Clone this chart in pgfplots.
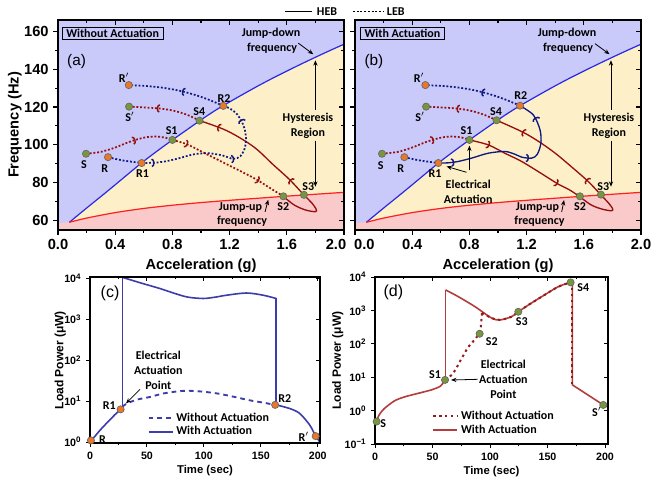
\documentclass[border=0pt]{standalone}
\usepackage{fontspec}
\setmainfont{Liberation Sans}
\newfontfamily\calfont{Carlito}
\usepackage{pgfplots}
\pgfplotsset{compat=1.18}
\usetikzlibrary{arrows.meta,decorations.markings}

\definecolor{lav}{RGB}{201,201,250}
\definecolor{yel}{RGB}{253,240,201}
\definecolor{pnk}{RGB}{250,201,201}
\definecolor{bline}{RGB}{40,40,230}
\definecolor{rline}{RGB}{255,30,30}
\definecolor{dred}{RGB}{150,15,15}
\definecolor{navy}{RGB}{15,25,130}
\definecolor{ornge}{RGB}{235,120,40}
\definecolor{grn}{RGB}{120,150,60}
\definecolor{cblue}{RGB}{60,60,170}
\definecolor{dline}{RGB}{180,60,60}
\definecolor{ddot}{RGB}{150,25,25}

\newcommand{\brb}{\arrow{Arc Barb[length=2.2pt,width=6.5pt,line width=1.1pt]}}

\tikzset{
 lbl/.style={font=\calfont\bfseries\fontsize{9}{10}\selectfont, inner sep=0.5pt, align=center},
 ann/.style={-{Stealth[length=4pt,width=3.2pt]}, line width=0.6pt, black},
}
\pgfplotsset{
 rpt/.style={only marks, mark=*, mark size=2.7pt, mark options={fill=ornge, draw=black!60, line width=0.5pt}},
 spt/.style={only marks, mark=*, mark size=2.7pt, mark options={fill=grn, draw=black!60, line width=0.5pt}},
 dotl/.style={line width=1.3pt, dash pattern=on 1.4pt off 1.4pt},
 dec/.style={postaction={decorate}, decoration={markings,#1}},
 panelab/.style={scale only axis, width=214.5pt, height=157.5pt, xmin=0, xmax=2, ymin=55, ymax=166,
   xtick={0,0.4,0.8,1.2,1.6,2.0}, minor x tick num=1, ytick={60,80,100,120,140,160}, minor y tick num=1,
   major tick length=3.5pt, minor tick length=2pt, tick style={line width=0.8pt, black},
   axis line style={line width=0.9pt}},
 mainab/.style={panelab, axis background/.style={fill=lav}, axis on top, xtick pos=left, ytick pos=left, tick align=outside,
   /pgf/number format/assume math mode=true,
   ticklabel style={font=\bfseries\fontsize{11}{12}\selectfont},
   xlabel={Acceleration (g)}, label style={font=\bfseries\fontsize{11}{12}\selectfont}},
 mirrab/.style={panelab, xtick pos=right, ytick pos=right, tick align=inside, xticklabels={}, yticklabels={}, axis line style={draw=none}},
}

\begin{document}
\begin{tikzpicture}
\path[use as bounding box] (0,0) rectangle (491.25pt,-357.75pt);

% top legend
\draw[line width=1.2pt] (213.75pt,-8.5pt) -- (234pt,-8.5pt);
\node[lbl, anchor=west] at (237pt,-8.5pt) {HEB};
\draw[line width=1.2pt, dash pattern=on 1.4pt off 1.4pt] (264.75pt,-8.5pt) -- (287.25pt,-8.5pt);
\node[lbl, anchor=west] at (289.5pt,-8.5pt) {LEB};

% ================= panel (a)
\begin{axis}[mainab, at={(43.5pt,-172.5pt)}, anchor=south west, ylabel={Frequency (Hz)},
  ylabel style={yshift=-5pt},
  xticklabels={0.0,0.4,0.8,1.2,1.6,\hspace*{-12pt}2.0}]
\addplot[draw=none, fill=yel] coordinates {(0.08,59.1)(0.2,66.6)(0.3,72.7)(0.4,78.9)(0.5,85.2)(0.6,91.4)(0.7,97.1)(0.8,102.6)(0.9,107.9)(1.0,113.2)(1.1,118.2)(1.2,122.7)(1.3,127)(1.4,131.2)(1.5,135.2)(1.6,139)(1.7,142.7)(1.8,146.3)(1.9,149.8)(2.0,153.2)(2.0,74.9)(1.8,73.9)(1.6,72.9)(1.4,71.8)(1.2,70.7)(1.0,69.5)(0.8,68.1)(0.6,66.4)(0.4,64.2)(0.2,61.3)(0.08,59.1)};
\addplot[draw=none, fill=pnk] coordinates {(0,55)(0,58.7)(0.08,59.1)(0.2,61.3)(0.4,64.2)(0.6,66.4)(0.8,68.1)(1.0,69.5)(1.2,70.7)(1.4,71.8)(1.6,72.9)(1.8,73.9)(2.0,74.9)(2.0,55)};
\addplot[bline, line width=0.9pt, smooth] coordinates {(0.08,59.1)(0.2,66.6)(0.3,72.7)(0.4,78.9)(0.5,85.2)(0.6,91.4)(0.7,97.1)(0.8,102.6)(0.9,107.9)(1.0,113.2)(1.1,118.2)(1.2,122.7)(1.3,127)(1.4,131.2)(1.5,135.2)(1.6,139)(1.7,142.7)(1.8,146.3)(1.9,149.8)(2.0,153.2)};
\addplot[rline, line width=0.9pt, smooth] coordinates {(0.08,59.1)(0.2,61.3)(0.4,64.2)(0.6,66.4)(0.8,68.1)(1.0,69.5)(1.2,70.7)(1.4,71.8)(1.6,72.9)(1.8,73.9)(2.0,74.9)};
% trajectories
\addplot[dred, dotl, smooth, dec={mark=at position 0.58 with {\brb}}] coordinates {(0.196,95.3)(0.3,96.3)(0.4,98.6)(0.5,101.6)(0.6,103.8)(0.68,104.4)(0.75,103.8)(0.80,102.6)};
\addplot[dred, dotl, smooth, dec={mark=at position 0.13 with {\brb}, mark=at position 0.77 with {\brb}}] coordinates {(0.80,102.6)(0.9,100.4)(1.0,96.6)(1.1,92.8)(1.2,89)(1.3,85.2)(1.39,81.6)(1.48,77.3)(1.576,72.8)};
\addplot[dred, line width=1pt, smooth, tension=0.55, dec={mark=at position 0.42 with {\brb}, mark=at position 0.9 with {\brb}}] coordinates {(1.576,72.8)(1.65,68.3)(1.73,65.6)(1.80,64.7)(1.805,66)(1.775,69.3)(1.72,73.5)(1.62,81.6)(1.505,89.5)(1.366,99.1)(1.18,107.5)(0.99,112.8)};
\addplot[dred, dotl, smooth, dec={mark=at position 0.62 with {\brb}}] coordinates {(0.99,112.8)(0.9,116)(0.8,118.2)(0.7,119.3)(0.6,119.8)(0.497,120.2)};
\addplot[navy, dotl, smooth] coordinates {(0.35,93.5)(0.45,91.8)(0.585,90.4)};
\addplot[navy, dotl, smooth, dec={mark=at position 0.08 with {\brb}, mark=at position 0.58 with {\brb}, mark=at position 0.86 with {\brb}}] coordinates {(0.585,90.4)(0.68,90.6)(0.76,91.4)(0.85,93)(0.95,95)(1.05,95.6)(1.15,94.4)(1.226,92.6)(1.275,94)(1.305,98)(1.315,102.6)(1.305,108.5)(1.28,113)(1.245,116.8)(1.2,119.3)(1.156,120.6)};
\addplot[navy, dotl, smooth, dec={mark=at position 0.45 with {\brb}}] coordinates {(1.156,120.6)(1.05,124)(0.95,126.6)(0.85,128.6)(0.75,130)(0.65,130.9)(0.55,131.4)(0.492,131.6)};
\addplot[rpt] coordinates {(0.35,93.5)(0.585,90.4)(1.156,120.6)(0.495,131.6)};
\addplot[spt] coordinates {(0.196,95.3)(0.80,102.6)(0.99,112.8)(0.497,120.2)(1.576,72.8)(1.72,73.6)};
% labels
\node[lbl] at (axis cs:0.462,135.6) {R$'$};
\node[lbl] at (axis cs:0.503,114.9) {S$'$};
\node[lbl] at (axis cs:0.182,89.5) {S};
\node[lbl] at (axis cs:0.327,87.7) {R};
\node[lbl] at (axis cs:0.592,84.7) {R1};
\node[lbl] at (axis cs:0.795,107.5) {S1};
\node[lbl] at (axis cs:0.988,117.5) {S4};
\node[lbl] at (axis cs:1.161,124.6) {R2};
\node[lbl] at (axis cs:1.576,67.2) {S2};
\node[lbl] at (axis cs:1.75,78.1) {S3};
\node[draw, line width=0.8pt, anchor=north west, font=\calfont\bfseries\fontsize{9}{10}\selectfont, inner xsep=3pt, inner ysep=1.5pt] at (rel axis cs:0.013,0.968) {Without Actuation};
\node[font=\fontsize{11.5}{13}\selectfont] at (rel axis cs:0.065,0.80) {(a)};
\node[lbl] at (axis cs:1.49,158.8) {Jump-down};
\node[lbl] at (axis cs:1.497,150.9) {frequency};
\draw[ann] (axis cs:1.68,153.8) -- (axis cs:1.785,147.9);
\node[lbl] at (axis cs:1.748,114.2) {Hysteresis};
\node[lbl] at (axis cs:1.748,106.3) {Region};
\draw[ann] (axis cs:1.80,118.5) -- (axis cs:1.80,144.7);
\draw[ann] (axis cs:1.80,102.3) -- (axis cs:1.80,77.9);
\node[lbl] at (axis cs:1.276,66.8) {Jump-up};
\node[lbl] at (axis cs:1.287,59.6) {frequency};
\draw[ann] (axis cs:1.448,64.6) -- (axis cs:1.47,71);
\end{axis}
\begin{axis}[mirrab, at={(43.5pt,-172.5pt)}, anchor=south west]
\end{axis}

% ================= panel (b)
\begin{axis}[mainab, at={(266.25pt,-172.5pt)}, anchor=south west, yticklabels={},
  xticklabels={0.0\hspace*{-14pt},0.4,0.8,1.2,1.6,2.0}]
\addplot[draw=none, fill=yel] coordinates {(0.08,59.1)(0.2,66.6)(0.3,72.7)(0.4,78.9)(0.5,85.2)(0.6,91.4)(0.7,97.1)(0.8,102.6)(0.9,107.9)(1.0,113.2)(1.1,118.2)(1.2,122.7)(1.3,127)(1.4,131.2)(1.5,135.2)(1.6,139)(1.7,142.7)(1.8,146.3)(1.9,149.8)(2.0,153.2)(2.0,74.9)(1.8,73.9)(1.6,72.9)(1.4,71.8)(1.2,70.7)(1.0,69.5)(0.8,68.1)(0.6,66.4)(0.4,64.2)(0.2,61.3)(0.08,59.1)};
\addplot[draw=none, fill=pnk] coordinates {(0,55)(0,58.7)(0.08,59.1)(0.2,61.3)(0.4,64.2)(0.6,66.4)(0.8,68.1)(1.0,69.5)(1.2,70.7)(1.4,71.8)(1.6,72.9)(1.8,73.9)(2.0,74.9)(2.0,55)};
\addplot[bline, line width=0.9pt, smooth] coordinates {(0.08,59.1)(0.2,66.6)(0.3,72.7)(0.4,78.9)(0.5,85.2)(0.6,91.4)(0.7,97.1)(0.8,102.6)(0.9,107.9)(1.0,113.2)(1.1,118.2)(1.2,122.7)(1.3,127)(1.4,131.2)(1.5,135.2)(1.6,139)(1.7,142.7)(1.8,146.3)(1.9,149.8)(2.0,153.2)};
\addplot[rline, line width=0.9pt, smooth] coordinates {(0.08,59.1)(0.2,61.3)(0.4,64.2)(0.6,66.4)(0.8,68.1)(1.0,69.5)(1.2,70.7)(1.4,71.8)(1.6,72.9)(1.8,73.9)(2.0,74.9)};
\addplot[dred, dotl, smooth, dec={mark=at position 0.6 with {\brb}}] coordinates {(0.189,95.3)(0.3,96.3)(0.4,98.6)(0.5,101.6)(0.6,103.8)(0.68,104.4)(0.75,103.8)(0.80,102.6)};
\addplot[dred, line width=1pt, smooth, dec={mark=at position 0.17 with {\brb}, mark=at position 0.8 with {\brb}}] coordinates {(0.80,102.6)(0.932,100)(1.05,95.5)(1.166,91.2)(1.3,85)(1.42,79.3)(1.5,76.2)(1.569,72.8)};
\addplot[dred, line width=1pt, smooth, tension=0.55, dec={mark=at position 0.42 with {\brb}, mark=at position 0.85 with {\brb}}] coordinates {(1.569,72.8)(1.65,68.3)(1.73,66)(1.795,65.2)(1.80,66.5)(1.77,69.5)(1.718,73.7)(1.63,80.7)(1.52,88)(1.40,95.6)(1.28,102)(1.166,107)(0.99,113)};
\addplot[dred, dotl, smooth, dec={mark=at position 0.58 with {\brb}}] coordinates {(0.99,113)(0.9,116)(0.8,118.2)(0.7,119.3)(0.6,119.8)(0.497,120.2)};
\addplot[navy, dotl, smooth] coordinates {(0.345,93.5)(0.45,91.8)(0.583,90.4)};
\addplot[navy, line width=1pt, smooth, dec={mark=at position 0.1 with {\brb}, mark=at position 0.58 with {\brb}, mark=at position 0.88 with {\brb}}] coordinates {(0.583,90.4)(0.65,90.5)(0.72,91.2)(0.816,93)(0.932,95.6)(1.049,96.5)(1.12,95)(1.166,93.5)(1.236,93)(1.275,95)(1.30,100.9)(1.294,107.9)(1.247,115.8)(1.154,120.7)};
\addplot[navy, dotl, smooth, dec={mark=at position 0.42 with {\brb}}] coordinates {(1.154,120.7)(1.05,124)(0.95,126.6)(0.85,128.6)(0.75,130)(0.65,130.9)(0.55,131.4)(0.492,131.6)};
\addplot[rpt] coordinates {(0.345,93.5)(0.583,90.4)(1.154,120.7)(0.492,131.6)};
\addplot[spt] coordinates {(0.189,95.3)(0.80,102.6)(0.99,113)(0.497,120.2)(1.573,72.8)(1.72,73.7)};
\node[lbl] at (axis cs:0.448,135.6) {R$'$};
\node[lbl] at (axis cs:0.455,114.6) {S$'$};
\node[lbl] at (axis cs:0.18,89.1) {S};
\node[lbl] at (axis cs:0.32,87.7) {R};
\node[lbl] at (axis cs:0.56,84.7) {R1};
\node[lbl] at (axis cs:0.78,107.5) {S1};
\node[lbl] at (axis cs:0.986,117.5) {S4};
\node[lbl] at (axis cs:1.16,125.8) {R2};
\node[lbl] at (axis cs:1.573,67.5) {S2};
\node[lbl] at (axis cs:1.736,78.1) {S3};
\node[draw, line width=0.8pt, anchor=north west, font=\calfont\bfseries\fontsize{9}{10}\selectfont, inner xsep=3pt, inner ysep=1.5pt] at (rel axis cs:0.0175,0.968) {With Actuation};
\node[font=\fontsize{11.5}{13}\selectfont] at (rel axis cs:0.066,0.80) {(b)};
\node[lbl] at (axis cs:1.483,158.8) {Jump-down};
\node[lbl] at (axis cs:1.49,150.9) {frequency};
\draw[ann] (axis cs:1.678,153.5) -- (axis cs:1.78,147.9);
\node[lbl] at (axis cs:1.776,114.2) {Hysteresis};
\node[lbl] at (axis cs:1.776,106.3) {Region};
\draw[ann] (axis cs:1.79,118.5) -- (axis cs:1.79,144.7);
\draw[ann] (axis cs:1.79,102.3) -- (axis cs:1.79,77.9);
\node[lbl] at (axis cs:1.276,66.8) {Jump-up};
\node[lbl] at (axis cs:1.29,59.6) {frequency};
\draw[ann] (axis cs:1.445,64.5) -- (axis cs:1.462,70.8);
\node[lbl] at (axis cs:0.792,78.9) {Electrical};
\node[lbl] at (axis cs:0.792,71.1) {Actuation};
\draw[ann] (axis cs:0.80,86.5) -- (axis cs:0.80,99.6);
\draw[ann] (axis cs:0.78,85.5) -- (axis cs:0.64,88.6);
\end{axis}
\begin{axis}[mirrab, at={(266.25pt,-172.5pt)}, anchor=south west]
\end{axis}

% ================= panel (c)
\begin{axis}[at={(67.5pt,-332.25pt)}, anchor=south west, scale only axis, width=172.5pt, height=124.5pt,
  xmin=0, xmax=202, ymode=log, ymin=0.95, ymax=10700,
  xtick={0,50,100,150,200}, minor x tick num=1,
  ytick={1,10,100,1000,10000},
  yticklabels={10\textsuperscript{0},10\textsuperscript{1},10\textsuperscript{2},10\textsuperscript{3},10\textsuperscript{4}},
  yminorticks=false, xtick pos=left, ytick pos=left, tick align=outside,
  major tick length=3pt, minor tick length=1.8pt, tick style={line width=0.7pt,black},
  axis line style={line width=0.9pt},
  /pgf/number format/assume math mode=true,
  ticklabel style={font=\bfseries\fontsize{8}{9}\selectfont},
  xlabel={Time (sec)}, ylabel={Load Power (μW)},
  xlabel style={font=\bfseries\fontsize{8.5}{9}\selectfont, yshift=2pt},
  ylabel style={font=\bfseries\fontsize{9}{10}\selectfont, yshift=-8pt},
  legend style={at={(0.25,0.2)}, anchor=north west, draw=none, fill=none, font=\calfont\bfseries\fontsize{9}{10}\selectfont, inner sep=0pt, row sep=-1.5pt},
  legend cell align=left,
  legend image code/.code={\draw[#1] (0pt,0pt) -- (18pt,0pt);},
  axis on top]
\addlegendimage{cblue, line width=1.4pt, dash pattern=on 3.5pt off 3pt}
\addlegendimage{cblue, line width=1.2pt}
\addplot[cblue, line width=1.4pt, dash pattern=on 3.5pt off 3pt, smooth] coordinates {(28.5,7.2)(32,8.7)(42,11)(52.6,12.6)(65,15.5)(81.8,17.8)(95,17.4)(111,15.5)(125,13)(140,10.5)(152,9.2)(162.6,8.1)};
\addplot[cblue, line width=1.2pt, smooth] coordinates {(0.5,1.05)(4,1.35)(8.8,1.95)(13,2.6)(17.5,3.5)(22,4.7)(26.9,6.3)(28.5,7.2)};
\addplot[cblue, line width=1.2pt] coordinates {(28.5,7.2)(28.5,10500)};
\addplot[cblue, line width=1.2pt, smooth] coordinates {(28.5,10500)(45,7600)(61.4,5600)(75,4200)(86,3450)(99.4,3200)(110,3450)(120,3850)(137.5,4350)(152,3850)(163.5,3200)};
\addplot[cblue, line width=1.2pt] coordinates {(163.5,3200)(163.5,8.1)};
\addplot[cblue, line width=1.2pt, smooth] coordinates {(163.5,8.1)(175.4,6.6)(184.2,5.0)(193,2.6)(198.2,1.4)(202,1.0)};
\addplot[rpt] coordinates {(0.8,1.1)(26.9,6.3)(162.6,8.1)(198.2,1.4)};
\legend{Without Actuation, With Actuation}
\node[lbl] at (axis cs:11,1.12) {R};
\node[lbl] at (axis cs:17,7.9) {R1};
\node[lbl] at (axis cs:171,11.7) {R2};
\node[lbl] at (axis cs:187.7,1.35) {R$'$};
\node[font=\fontsize{12}{13}\selectfont] at (rel axis cs:0.087,0.90) {(c)};
\node[lbl] at (axis cs:60,132) {Electrical};
\node[lbl] at (axis cs:60,57) {Actuation};
\node[lbl] at (axis cs:60,24.5) {Point};
\draw[ann] (axis cs:43.9,19.3) -- (axis cs:31.6,8.8);
\end{axis}
\begin{axis}[at={(67.5pt,-332.25pt)}, anchor=south west, scale only axis, width=172.5pt, height=124.5pt,
  xmin=0, xmax=202, ymode=log, ymin=0.95, ymax=10700, xtick={0,50,100,150,200}, minor x tick num=1,
  ytick={1,10,100,1000,10000}, yminorticks=false, xtick pos=right, ytick pos=right, tick align=inside,
  major tick length=3pt, minor tick length=1.8pt, tick style={line width=0.7pt,black},
  xticklabels={}, yticklabels={}, axis line style={draw=none}]
\end{axis}

% ================= panel (d)
\begin{axis}[at={(281.25pt,-333pt)}, anchor=south west, scale only axis, width=174.75pt, height=125.25pt,
  xmin=0, xmax=202.6, ymode=log, ymin=0.1, ymax=10000,
  xtick={0,50,100,150,200}, minor x tick num=1,
  ytick={0.1,1,10,100,1000,10000},
  yticklabels={10\textsuperscript{−1},10\textsuperscript{0},10\textsuperscript{1},10\textsuperscript{2},10\textsuperscript{3},10\textsuperscript{4}},
  yminorticks=false, xtick pos=left, ytick pos=left, tick align=outside,
  major tick length=3pt, minor tick length=1.8pt, tick style={line width=0.7pt,black},
  axis line style={line width=0.9pt},
  /pgf/number format/assume math mode=true,
  ticklabel style={font=\bfseries\fontsize{8}{9}\selectfont},
  xlabel={Time (sec)}, ylabel={Load Power (μW)},
  xlabel style={font=\bfseries\fontsize{8.5}{9}\selectfont, yshift=2pt},
  ylabel style={font=\bfseries\fontsize{9}{10}\selectfont, yshift=-6pt},
  legend style={at={(0.245,0.216)}, anchor=north west, draw=none, fill=none, font=\calfont\bfseries\fontsize{9}{10}\selectfont, inner sep=0pt, row sep=-1.5pt},
  legend cell align=left,
  legend image code/.code={\draw[#1] (0pt,0pt) -- (18pt,0pt);},
  axis on top]
\addlegendimage{ddot, line width=1.5pt, dash pattern=on 1.8pt off 2.6pt}
\addlegendimage{dline, line width=1.2pt}
\addplot[dline, line width=1.2pt, smooth] coordinates {(1.4,0.47)(3,0.68)(6,0.97)(10.1,1.32)(17.4,2.0)(26.1,2.6)(37.7,3.3)(49.3,4.2)(56.5,5.3)(59.5,7)(61.4,9)};
\addplot[dline, line width=1.2pt] coordinates {(61.4,9)(61.4,4100)};
\addplot[dline, line width=1.2pt, smooth] coordinates {(61.4,4100)(72.5,2570)(87,1290)(101.4,590)(108.7,520)(118.8,650)(124.6,910)(134,1500)(144.9,2570)(159.4,5130)(170.1,6900)(171.6,7000)};
\addplot[dline, line width=1.2pt] coordinates {(171.6,7000)(171.6,5.9)(198.5,1.48)(202.6,1.3)};
\addplot[ddot, line width=1.5pt, dash pattern=on 1.8pt off 2.6pt, smooth] coordinates {(61,8.3)(68,13.2)(75.4,37)(81.2,81)(88,150)(91.5,260)(92.5,500)(93,850)};
\addplot[ddot, line width=1.5pt, dash pattern=on 1.8pt off 2.6pt, smooth] coordinates {(93,850)(101.4,590)(108.7,520)(118.8,650)(124.6,910)(134,1500)(144.9,2570)(159.4,5130)(170.1,6900)(171.6,7000)};
\addplot[ddot, line width=1.5pt, dash pattern=on 1.8pt off 2.6pt] coordinates {(171.6,7000)(171.6,5.9)};
\addplot[spt] coordinates {(1.4,0.47)(60.9,8.3)(91,200)(124.6,910)(170.1,6900)(198.5,1.48)};
\legend{Without Actuation, With Actuation}
\node[lbl] at (axis cs:7.2,0.417) {S};
\node[lbl] at (axis cs:52.2,11.7) {S1};
\node[lbl] at (axis cs:101.5,115) {S2};
\node[lbl] at (axis cs:127.6,457) {S3};
\node[lbl] at (axis cs:181.1,4790) {S4};
\node[lbl] at (axis cs:192.8,0.93) {S$'$};
\node[font=\fontsize{12}{13}\selectfont] at (rel axis cs:0.079,0.91) {(d)};
\node[lbl] at (axis cs:111.6,25) {Electrical};
\node[lbl] at (axis cs:111.6,8.9) {Actuation};
\node[lbl] at (axis cs:111.6,3.16) {Point};
\draw[ann] (axis cs:89.3,8.65) -- (axis cs:66.1,8.24);
\end{axis}
\begin{axis}[at={(281.25pt,-333pt)}, anchor=south west, scale only axis, width=174.75pt, height=125.25pt,
  xmin=0, xmax=202.6, ymode=log, ymin=0.1, ymax=10000, xtick={0,50,100,150,200}, minor x tick num=1,
  ytick={0.1,1,10,100,1000,10000}, yminorticks=false, xtick pos=right, ytick pos=right, tick align=inside,
  major tick length=3pt, minor tick length=1.8pt, tick style={line width=0.7pt,black},
  xticklabels={}, yticklabels={}, axis line style={draw=none}]
\end{axis}
\end{tikzpicture}
\end{document}
